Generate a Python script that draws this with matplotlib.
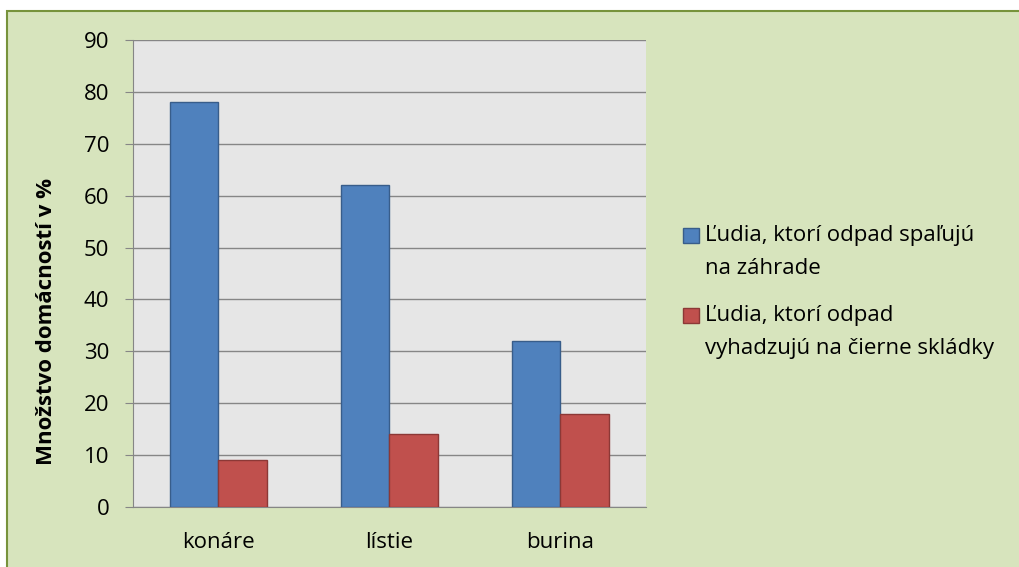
import matplotlib.pyplot as plt
import numpy as np
from matplotlib.patches import Rectangle
from matplotlib.container import BarContainer
from matplotlib.legend_handler import HandlerPatch

# data
categories = ["konáre", "lístie", "burina"]
spalovanie = [78, 62, 32]
skladky = [9, 14, 18]
series_labels = ["Ľudia, ktorí odpad spaľujú\nna záhrade",
                 "Ľudia, ktorí odpad\nvyhadzujú na čierne skládky"]

plt.rcParams['font.family'] = ['Open Sans', 'DejaVu Sans']

fig = plt.figure(figsize=(10.2, 5.67), dpi=100, facecolor='white')
# outer chart area, runs off the right and bottom edge
fig.patches.append(Rectangle((7 / 1020, -10 / 567), 1030 / 1020, 566 / 567,
                             transform=fig.transFigure, facecolor='#d7e4bd',
                             edgecolor='#77933c', linewidth=1.5, zorder=-5))

ax = fig.add_axes([133 / 1020, 60 / 567, 513 / 1020, 467 / 567])
ax.set_zorder(2)
ax.set_facecolor('#e6e6e6')

x = np.arange(len(categories))
w = 0.285
b1 = ax.bar(x - w / 2, spalovanie, w, color='#4f81bd', edgecolor='#385d8a',
            linewidth=1, label=series_labels[0], zorder=3)
b2 = ax.bar(x + w / 2, skladky, w, color='#c0504d', edgecolor='#8c3836',
            linewidth=1, label=series_labels[1], zorder=3)

ax.set_xlim(-0.5, 2.5)
ax.set_ylim(0, 90)
ax.set_yticks(range(0, 91, 10))
ax.set_xticks(x)
ax.set_xticklabels(categories)
ax.yaxis.grid(True, color='#868686', linewidth=1, zorder=1)
ax.set_axisbelow(True)
for s in ['top', 'right']:
    ax.spines[s].set_visible(False)
ax.spines['left'].set_color('#868686')
ax.spines['bottom'].set_color('#868686')
ax.tick_params(axis='y', length=6, color='#868686', labelsize=16, pad=11)
ax.tick_params(axis='x', length=0, labelsize=16, pad=18)
ax.set_ylabel("Množstvo domácností v %", fontsize=16, fontweight='bold')
ax.yaxis.set_label_coords(-0.149, 0.398)


# legend square sits next to the first line of the label
class TopSquare(HandlerPatch):
    def create_artists(self, legend, orig_handle, xdescent, ydescent,
                       width, height, fontsize, trans):
        src = orig_handle.patches[0]
        p = Rectangle((-xdescent, -ydescent + 12), width, height,
                      facecolor=src.get_facecolor(),
                      edgecolor=src.get_edgecolor(), linewidth=1)
        p.set_transform(trans)
        return [p]


leg = fig.legend(handles=[b1, b2], loc='upper left', bbox_to_anchor=(663 / 1020, 1 - 205 / 567),
                 frameon=False, fontsize=16, handlelength=0.7, handleheight=0.7,
                 handletextpad=0.3, labelspacing=1.2,
                 handler_map={BarContainer: TopSquare()})
for t in leg.get_texts():
    t.set_linespacing(1.72)

fig.savefig("out.png", dpi=100, facecolor='white')
